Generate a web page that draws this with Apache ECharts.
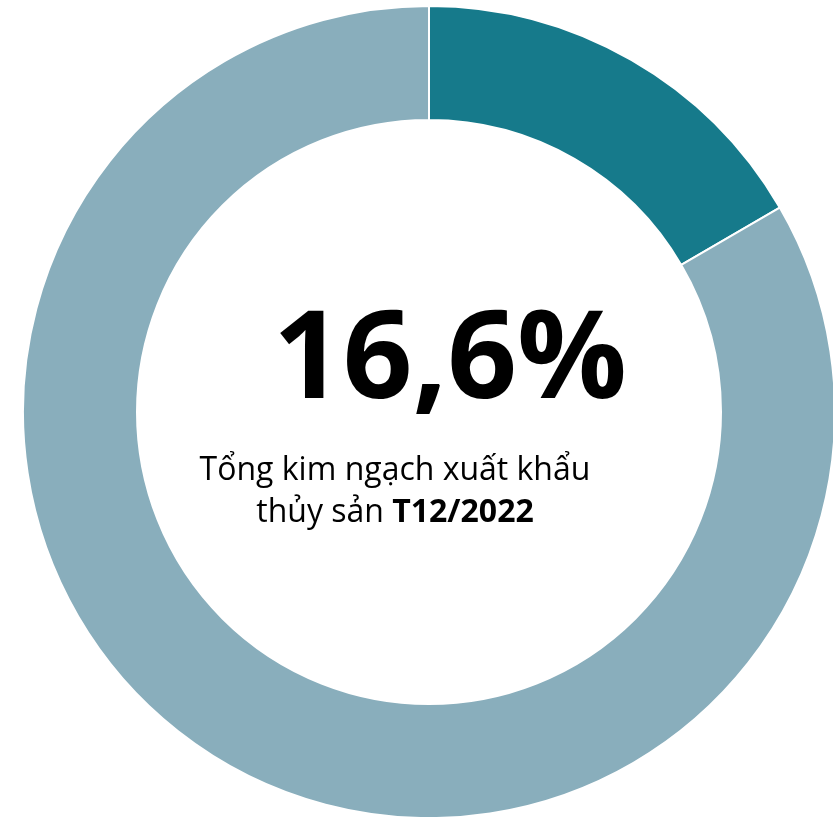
<!DOCTYPE html>
<html>
<head>
<meta charset="utf-8">
<script src="https://cdn.jsdelivr.net/npm/echarts@6/dist/echarts.min.js"></script>
<style>
  html, body { margin: 0; padding: 0; background: #fff; }
  #chart { width: 833px; height: 817px; }
</style>
</head>
<body>
<div id="chart"></div>
<script>
// share of seafood export value
var sliceNames = ['T12/2022', 'Còn lại'];
var sliceValues = [16.6, 83.4];
var bigLabel = '16,6%';
var subLine1 = 'Tổng kim ngạch xuất khẩu';
var subLine2 = 'thủy sản ';
var subBold = 'T12/2022';

var sliceColors = ['#167a8b', '#89aebc'];

var chart = echarts.init(document.getElementById('chart'));

var pieData = [];
for (var i = 0; i < sliceValues.length; i++) {
  pieData.push({
    name: sliceNames[i],
    value: sliceValues[i],
    itemStyle: { color: sliceColors[i] }
  });
}

var option = {
  backgroundColor: '#fff',
  animation: false,
  series: [{
    type: 'pie',
    center: [429, 412],
    radius: [292, 406],
    startAngle: 90,
    clockwise: true,
    silent: true,
    label: { show: false },
    labelLine: { show: false },
    itemStyle: { borderColor: '#fff', borderWidth: 2 },
    data: pieData
  }],
  graphic: [
    {
      type: 'text',
      x: 450,
      y: 363,
      style: {
        text: bigLabel,
        fontFamily: 'Open Sans',
        fontWeight: 'bold',
        fontSize: 122,
        fill: '#000',
        align: 'center',
        verticalAlign: 'middle'
      }
    },
    {
      type: 'text',
      x: 395,
      y: 450,
      style: {
        text: '{n|' + subLine1 + '}\n{n|' + subLine2 + '}{b|' + subBold + '}',
        align: 'center',
        verticalAlign: 'top',
        rich: {
          n: { fontFamily: 'Open Sans', fontSize: 32, lineHeight: 42, fill: '#000' },
          b: { fontFamily: 'Open Sans', fontSize: 32, lineHeight: 42, fontWeight: 'bold', fill: '#000' }
        }
      }
    }
  ]
};

chart.setOption(option);
</script>
</body>
</html>
